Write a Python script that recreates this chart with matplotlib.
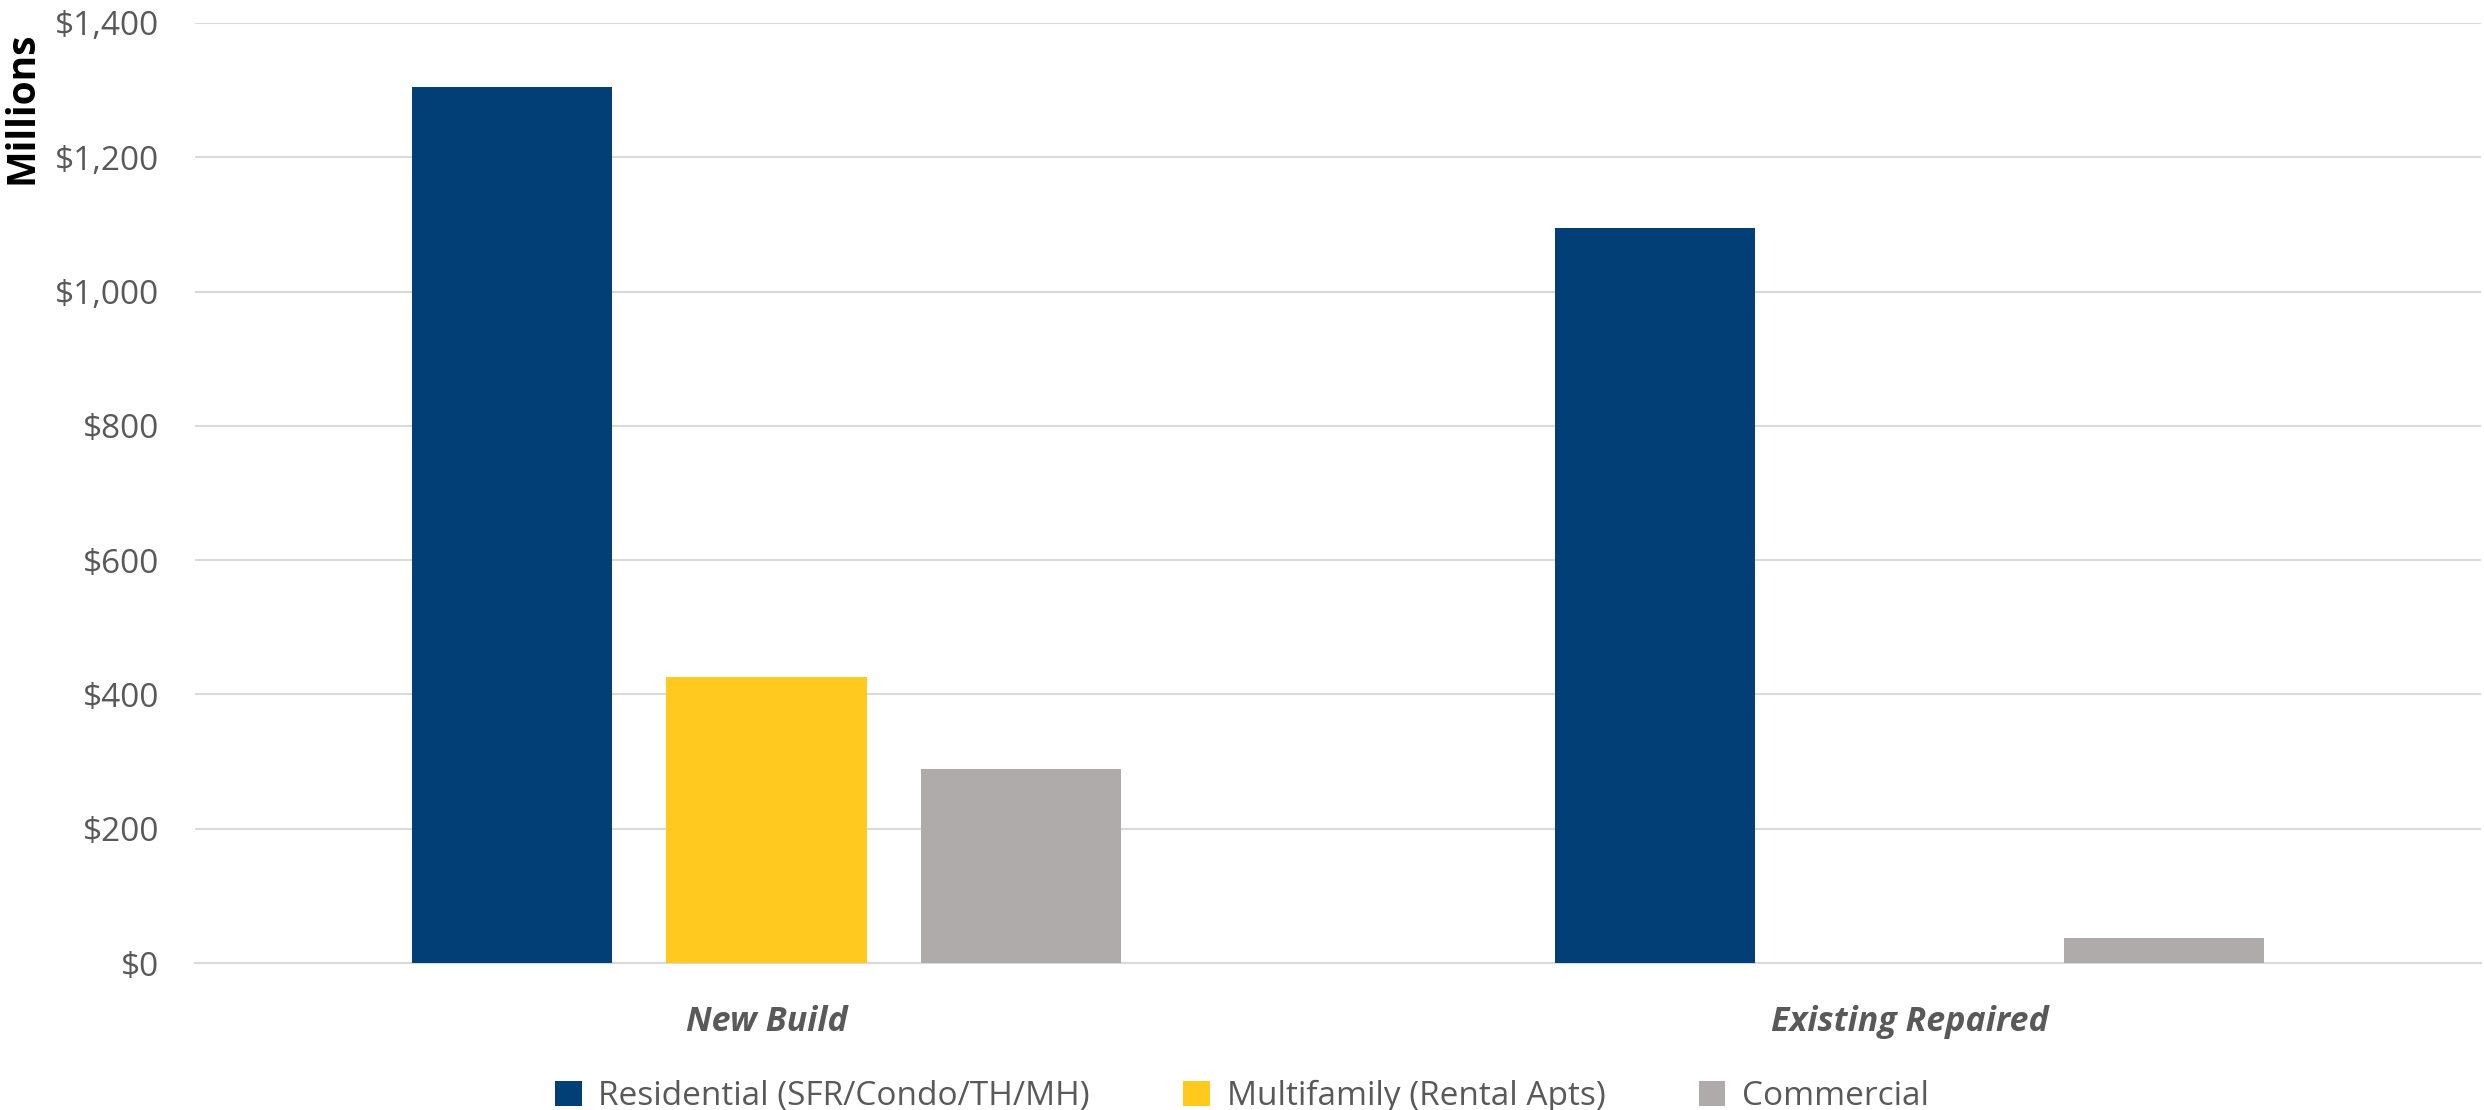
import matplotlib.pyplot as plt
import numpy as np

# Values in millions of dollars
categories = ["New Build", "Existing Repaired"]
series_names = ["Residential (SFR/Condo/TH/MH)", "Multifamily (Rental Apts)", "Commercial"]
residential = [1305, 1094]
multifamily = [426, 0]
commercial = [289, 37]
colors = ["#023F77", "#FFCA1D", "#AFABAB"]
yticks = [0, 200, 400, 600, 800, 1000, 1200, 1400]

plt.rcParams['font.family'] = ['Open Sans', 'DejaVu Sans']

fig = plt.figure(figsize=(24.84, 11.10), dpi=100)
ax = fig.add_axes([0.0785, 0.1324, 0.9203, 0.8469])

x = np.arange(len(categories))
offset = 0.223
width = 0.175
handles = []
for i, (vals, name, c) in enumerate(zip([residential, multifamily, commercial], series_names, colors)):
    h = ax.bar(x + (i - 1) * offset, vals, width, color=c, label=name, zorder=3)
    handles.append(h)

ax.set_xlim(-0.5, 1.5)
ax.set_ylim(0, 1400)
ax.set_yticks(yticks)
ax.set_yticklabels([f"${v:,}" for v in yticks], fontsize=24, color="#595959")
ax.set_xticks(x)
ax.set_xticklabels(categories, fontsize=24.5, color="#595959", fontweight="bold", fontstyle="italic")
ax.tick_params(axis="y", length=0, pad=26)
ax.tick_params(axis="x", length=0, pad=30)

ax.grid(axis="y", color="#D9D9D9", linewidth=1.5, zorder=0)
for s in ["top", "right", "left"]:
    ax.spines[s].set_visible(False)
ax.spines["bottom"].set_color("#D9D9D9")
ax.spines["bottom"].set_linewidth(1.5)

fig.text(0.001, 0.972, "Millions", rotation=90, fontsize=28, fontweight="bold",
         color="black", ha="left", va="top")

fig.legend(handles=handles, loc="lower center", bbox_to_anchor=(0.5, -0.03), ncol=3,
           frameon=False, fontsize=24, labelcolor="#595959", handlelength=0.8,
           handleheight=0.8, handletextpad=0.5, columnspacing=2.8)

fig.savefig("out.png", dpi=100)
